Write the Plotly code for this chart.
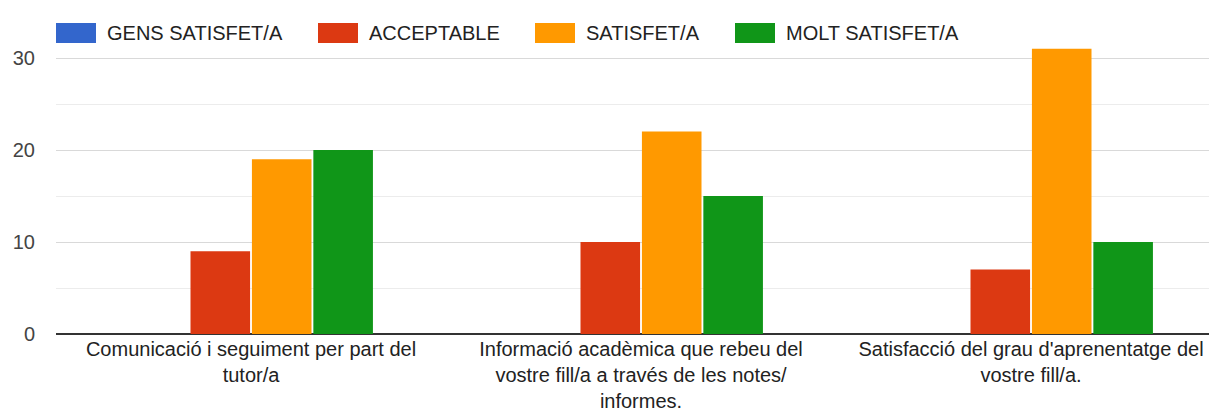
import plotly.graph_objects as go

categories = [
    "Comunicació i seguiment per part del<br>tutor/a",
    "Informació acadèmica que rebeu del<br>vostre fill/a a través de les notes/<br>informes.",
    "Satisfacció del grau d'aprenentatge del<br>vostre fill/a.",
]
series_names = ["GENS SATISFET/A", "ACCEPTABLE", "SATISFET/A", "MOLT SATISFET/A"]
gens = [0, 0, 0]
acceptable = [9, 10, 7]
satisfet = [19, 22, 31]
molt = [20, 15, 10]
colors = ["#3366CC", "#DC3912", "#FF9900", "#109618"]

# the page body has an 8px margin; the plot runs slightly past the right edge
OFF = 8
W, H = 1218, 410 - OFF
L, R, T, B = 48, 0, 4, 76

fig = go.Figure()
for name, vals, col in zip(series_names, [gens, acceptable, satisfet, molt], colors):
    fig.add_trace(go.Bar(x=categories, y=vals, name=name, marker_color=col,
                         marker_line_width=0, showlegend=False))

# legend drawn by hand so the swatches are wide rectangles like the original
def px_x(p):
    return (p - OFF - L) / (W - L - R)

def px_y(p):
    return (H - B - (p - OFF)) / (H - B - T)

legend_x = [56, 318, 535, 735]
for name, col, x0 in zip(series_names, colors, legend_x):
    fig.add_shape(type="rect", xref="paper", yref="paper",
                  x0=px_x(x0), x1=px_x(x0 + 40), y0=px_y(43), y1=px_y(23),
                  fillcolor=col, line_width=0, layer="above")
    fig.add_annotation(xref="paper", yref="paper", x=px_x(x0 + 49), y=px_y(33),
                       xanchor="left", yanchor="middle", text=name, showarrow=False,
                       font=dict(size=20, color="#222"))

fig.update_layout(
    width=W, height=H,
    margin=dict(l=L, r=R, t=T, b=B),
    plot_bgcolor="white", paper_bgcolor="white",
    font=dict(family="Liberation Sans, Arial", size=20, color="#222"),
    barmode="group", bargap=0.37, bargroupgap=0.03,
)
fig.update_yaxes(range=[0, 35], tick0=0, dtick=10, showgrid=True, gridcolor="#d9d9d9",
                 minor=dict(dtick=5, showgrid=True, gridcolor="#ececec"),
                 zeroline=True, zerolinecolor="#333", zerolinewidth=2,
                 tickfont=dict(size=20, color="#444"), ticks="", ticklabelstandoff=20,
                 automargin=False)
fig.update_xaxes(showgrid=False, tickfont=dict(size=20, color="#222"), ticks="",
                 ticklabelstandoff=1, automargin=False)

fig.write_html("out.html")
